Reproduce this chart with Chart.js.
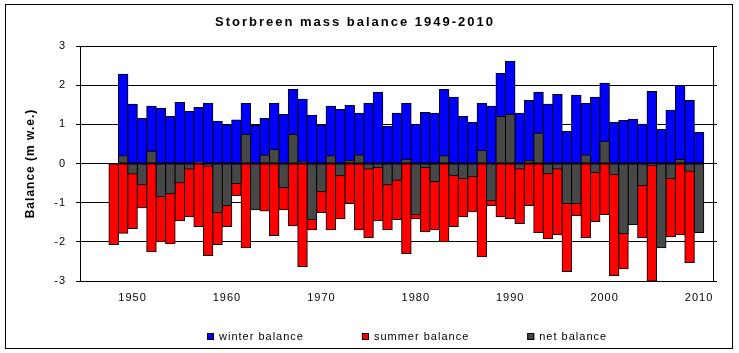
<!DOCTYPE html>
<html>
<head>
<meta charset="utf-8">
<title>Storbreen mass balance 1949-2010</title>
<script src="https://cdn.jsdelivr.net/npm/chart.js@4.4.1/dist/chart.umd.min.js"></script>
<style>
  html, body { margin: 0; background: #fff; }
  canvas { display: block; }
</style>
</head>
<body>
<canvas id="chart" width="739" height="353"></canvas>
<script>
const TITLE = 'Storbreen mass balance 1949-2010';
const FONT = '"Liberation Sans", Arial, sans-serif';

const YEARS = [
  1949, 1950, 1951, 1952, 1953, 1954, 1955, 1956, 1957, 1958,
  1959, 1960, 1961, 1962, 1963, 1964, 1965, 1966, 1967, 1968,
  1969, 1970, 1971, 1972, 1973, 1974, 1975, 1976, 1977, 1978,
  1979, 1980, 1981, 1982, 1983, 1984, 1985, 1986, 1987, 1988,
  1989, 1990, 1991, 1992, 1993, 1994, 1995, 1996, 1997, 1998,
  1999, 2000, 2001, 2002, 2003, 2004, 2005, 2006, 2007, 2008,
  2009, 2010,
];

const WINTER = [
  2.28, 1.51, 1.15, 1.46, 1.41, 1.20, 1.56, 1.33, 1.43, 1.53,
  1.07, 0.99, 1.11, 1.53, 0.97, 1.15, 1.53, 1.25, 1.89, 1.64,
  1.23, 0.98, 1.46, 1.38, 1.48, 1.28, 1.53, 1.82, 0.95, 1.28,
  1.53, 1.00, 1.30, 1.28, 1.89, 1.69, 1.20, 1.05, 1.53, 1.46,
  2.30, 2.61, 1.28, 1.61, 1.82, 1.51, 1.76, 0.82, 1.74, 1.53,
  1.69, 2.05, 1.05, 1.10, 1.13, 1.00, 1.84, 0.87, 1.36, 1.99,
  1.61, 0.79,
];

const SUMMER = [
  -2.07, -1.78, -1.66, -1.13, -2.25, -2.00, -2.05, -1.46, -1.36, -1.61,
  -2.35, -2.07, -1.61, -0.82, -2.15, -0.93, -1.21, -1.84, -1.18, -1.59,
  -2.63, -1.69, -1.25, -1.69, -1.41, -1.02, -1.69, -1.89, -1.46, -1.69,
  -1.43, -2.30, -1.41, -1.74, -1.69, -2.00, -1.61, -1.36, -1.23, -2.38,
  -1.07, -1.36, -1.41, -1.53, -1.07, -1.76, -1.92, -1.82, -2.76, -1.33,
  -1.89, -1.48, -1.30, -2.86, -2.69, -1.56, -1.89, -3.00, -1.74, -1.87,
  -1.82, -2.53,
];

const NET = [
  0.20, -0.27, -0.54, 0.31, -0.84, -0.77, -0.49, -0.14, 0.04, -0.07,
  -1.25, -1.07, -0.51, 0.74, -1.18, 0.22, 0.36, -0.61, 0.74, 0.05,
  -1.43, -0.72, 0.20, -0.31, 0.08, 0.22, -0.14, -0.10, -0.54, -0.43,
  0.10, -1.30, -0.10, -0.46, 0.20, -0.31, -0.38, -0.33, 0.33, -0.95,
  1.20, 1.25, -0.14, 0.08, 0.77, -0.26, -0.14, -1.02, -1.02, 0.22,
  -0.23, 0.56, -0.28, -1.79, -1.56, -0.56, -0.05, -2.15, -0.38, 0.10,
  -0.20, -1.76,
];

const X_TICKS = [1950, 1960, 1970, 1980, 1990, 2000, 2010];
const Y_TICKS = [-3, -2, -1, 0, 1, 2, 3];

// the source chart draws the summer series one column to the left, keep that
const SUMMER_SHIFT = -1;

const toPoints = (values, shift = 0) => values.map((y, i) => ({ x: YEARS[i] + shift, y }));
const useTicks = (list) => (scale) => { scale.ticks = list.map((value) => ({ value })); };

// frame, spaced-out title and the legend row under the axis
const decorations = {
    id: 'decorations',
    beforeDraw(chart) {
        chart.ctx.letterSpacing = '1px';
    },
    afterDraw(chart) {
        const { ctx } = chart;
        ctx.save();
        ctx.strokeStyle = '#000';
        ctx.lineWidth = 1;
        ctx.strokeRect(5.5, 4.5, 727, 344);

        ctx.fillStyle = '#000';
        ctx.textBaseline = 'middle';
        ctx.textAlign = 'center';
        ctx.font = 'bold 13px ' + FONT;
        ctx.letterSpacing = '2px';
        ctx.fillText(TITLE, 355, 22);

        ctx.font = '11px ' + FONT;
        ctx.letterSpacing = '1px';
        ctx.textAlign = 'left';
        let x = 207;
        chart.data.datasets.forEach((ds) => {
            ctx.fillStyle = ds.backgroundColor;
            ctx.fillRect(x, 333, 7, 7);
            ctx.strokeRect(x + 0.5, 333.5, 6, 6);
            ctx.fillStyle = '#000';
            ctx.fillText(ds.label, x + 12, 337);
            x += 12 + ctx.measureText(ds.label).width + 58;
        });
        ctx.restore();
    },
};

Chart.defaults.font.family = FONT;
Chart.defaults.color = '#000';

new Chart(document.getElementById('chart'), {
    type: 'bar',
    data: {
        datasets: [
            { label: 'winter balance', data: toPoints(WINTER), backgroundColor: '#0000ff', order: 1 },
            { label: 'summer balance', data: toPoints(SUMMER, SUMMER_SHIFT), backgroundColor: '#ff0000', order: 1 },
            { label: 'net balance', data: toPoints(NET), backgroundColor: '#474747', order: 0 },
        ],
    },
    options: {
        responsive: false,
        animation: false,
        devicePixelRatio: 1,
        layout: { padding: { top: 46, bottom: 40, left: 0, right: 0 } },
        datasets: {
            bar: {
                grouped: false,
                barPercentage: 1,
                categoryPercentage: 1,
                borderColor: '#000',
                borderWidth: 1,
                borderSkipped: false,
                inflateAmount: 0.5,
            },
        },
        plugins: {
            legend: { display: false },
            title: { display: false },
            tooltip: { enabled: false },
        },
        scales: {
            x: {
                type: 'linear',
                min: 1944.43,
                max: 2011.48,
                offset: false,
                afterBuildTicks: useTicks(X_TICKS),
                afterFit: (s) => { s.height = 32; },
                grid: { display: false, offset: false, drawTicks: false },
                border: { color: '#000' },
                ticks: { padding: 10, font: { size: 11 }, callback: (v) => String(v) },
            },
            y: {
                min: -3,
                max: 3,
                afterBuildTicks: useTicks(Y_TICKS),
                afterFit: (s) => { s.width = 80; },
                grid: { color: '#000', tickLength: 4 },
                border: { color: '#000' },
                ticks: { padding: 10, font: { size: 11 } },
                title: {
                    display: true,
                    text: 'Balance (m w.e.)',
                    font: { size: 12, weight: 'bold' },
                    padding: { top: 23, bottom: 0 },
                },
            },
            y2: {
                position: 'right',
                min: -3,
                max: 3,
                afterBuildTicks: useTicks(Y_TICKS),
                afterFit: (s) => { s.width = 26; },
                grid: { drawOnChartArea: false, color: '#000', tickLength: 4 },
                border: { color: '#000' },
                ticks: { display: false },
            },
        },
    },
    plugins: [decorations],
});
</script>
</body>
</html>
